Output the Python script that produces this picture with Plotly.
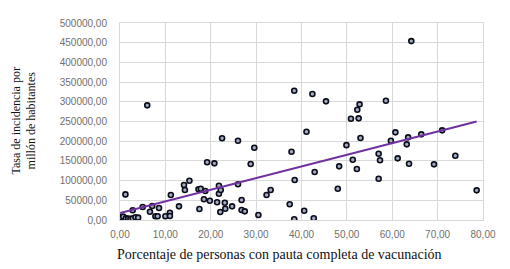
import numpy as np
import plotly.graph_objects as go

# Percentage fully vaccinated (x) and incidence rate per million (y)
vacc_pct = [
    0.0, 0.2, 0.7, 1.3, 1.8, 2.3, 2.8, 3.4, 4.0,
    1.2, 2.8, 5.0, 6.0, 6.6, 7.1, 7.8, 8.3, 8.6, 10.0, 11.0, 11.0, 11.2,
    13.0, 14.1, 14.3, 15.3, 17.3, 17.5, 17.8, 18.5, 18.8, 19.2, 19.8,
    20.8, 21.4, 21.8, 21.8, 22.1, 22.2, 22.5, 23.1, 23.2, 24.7,
    26.0, 26.0, 26.8, 26.8, 27.5, 28.8, 29.6, 30.5, 32.3, 33.2,
    37.4, 37.8, 38.4, 38.4, 38.5, 40.6, 41.1, 42.4, 42.7, 42.9,
    45.4, 48.0, 48.3, 49.9, 50.9, 51.3, 52.2, 52.3, 52.6, 52.8, 53.0,
    57.0, 57.0, 57.3, 58.6, 59.7, 60.7, 61.2, 63.2, 63.5, 63.7, 64.2,
    66.4, 69.2, 71.0, 73.9, 78.6,
]
incidence = [
    2500, 7000, 8500, 4000, 3500, 2500, 4000, 7000, 6000,
    65000, 24600, 33000, 291000, 21000, 35500, 9400, 9400, 30400, 9400, 18500, 10000, 63400,
    34700, 88800, 76100, 99700, 77900, 27900, 79400, 52500, 73600, 146400, 49000,
    143800, 44900, 87000, 66700, 20300, 76100, 207300, 43900, 28700, 34700,
    201200, 90600, 50700, 25400, 22000, 142000, 183500, 12700, 63400, 76100,
    39800, 173300, 328000, 1800, 101500, 23600, 224000, 319700, 4300, 121800,
    301100, 79400, 136200, 190000, 257000, 153000, 129400, 279800, 258000, 293500, 208000,
    168200, 104800, 151500, 302700, 201200, 222500, 156500, 192000, 209800, 142800, 454000,
    217400, 141300, 227600, 163100, 75300,
]

x_ticks = [0, 10, 20, 30, 40, 50, 60, 70, 80]
x_tick_labels = ["0,00", "10,00", "20,00", "30,00", "40,00", "50,00", "60,00", "70,00", "80,00"]
y_ticks = [0, 50000, 100000, 150000, 200000, 250000, 300000, 350000, 400000, 450000, 500000]
y_tick_labels = ["0,00", "50000,00", "100000,00", "150000,00", "200000,00", "250000,00",
                 "300000,00", "350000,00", "400000,00", "450000,00", "500000,00"]

x_arr = np.array(vacc_pct)
y_arr = np.array(incidence)
slope, intercept = np.polyfit(x_arr, y_arr, 1)
trend_x = np.array([min(vacc_pct), max(vacc_pct)])
trend_y = slope * trend_x + intercept

W, H = 510, 269
L, R, T, B = 120, 27, 23, 49
pw = W - L - R

fig = go.Figure()
fig.add_trace(go.Scatter(
    x=vacc_pct, y=incidence, mode="markers",
    marker=dict(size=5, color="#a3afc8", line=dict(color="#0d0d1a", width=1.6)),
    showlegend=False,
))
fig.add_trace(go.Scatter(
    x=trend_x, y=trend_y, mode="lines",
    line=dict(color="#7030a0", width=2), showlegend=False,
))

tick_font = dict(family="Liberation Sans, Arial, sans-serif", size=10, color="#6f6f6f")
fig.update_layout(
    width=W, height=H,
    margin=dict(l=L, r=R, t=T, b=B),
    paper_bgcolor="white", plot_bgcolor="white",
    xaxis=dict(range=[0, 80], tickvals=x_ticks, ticktext=x_tick_labels,
               showgrid=True, gridcolor="#d9d9d9", gridwidth=1,
               zeroline=False, showline=True, linecolor="#d9d9d9", mirror=True,
               tickfont=tick_font, ticks="", ticklabelstandoff=5),
    yaxis=dict(range=[0, 500000], tickvals=y_ticks, ticktext=y_tick_labels,
               showgrid=True, gridcolor="#d9d9d9", gridwidth=1,
               zeroline=False, showline=True, linecolor="#d9d9d9", mirror=True,
               tickfont=tick_font, ticks="", ticklabelstandoff=10),
    annotations=[
        dict(text="Porcentaje de personas con pauta completa de vacunación",
             xref="paper", yref="paper", x=(279 - L) / pw, y=-0.125,
             xanchor="center", yanchor="top", showarrow=False,
             font=dict(family="Liberation Serif, Times New Roman, serif", size=14, color="#111111")),
        dict(text="Tasa de incidencia por<br>millón de habitantes",
             xref="paper", yref="paper", x=(23 - L) / pw, y=0.5,
             xanchor="center", yanchor="middle", showarrow=False, textangle=-90,
             font=dict(family="Liberation Serif, Times New Roman, serif", size=12, color="#111111")),
    ],
)

fig.write_html("out.html", config={"displayModeBar": False},
               post_script="document.body.style.margin='0';document.body.style.overflow='hidden';")
